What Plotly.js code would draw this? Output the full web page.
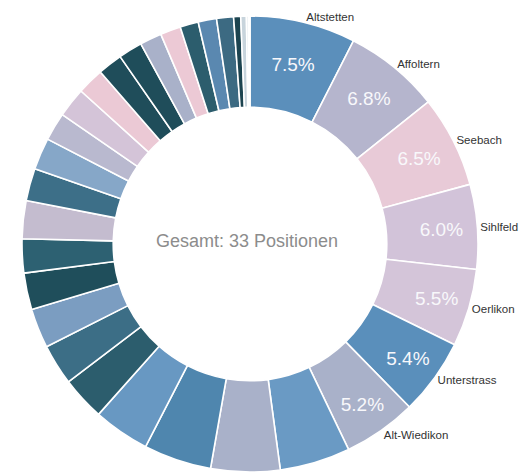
<!DOCTYPE html>
<html>
<head>
<meta charset="utf-8">
<script src="https://cdn.plot.ly/plotly-3.0.1.min.js"></script>
<style>html,body{margin:0;padding:0;background:#fff;}#chart{width:531px;height:475px;}</style>
</head>
<body>
<div id="chart"></div>
<script>
const names = ["Altstetten","Affoltern","Seebach","Sihlfeld","Oerlikon","Unterstrass","Alt-Wiedikon",
  "Quartier 8","Quartier 9","Quartier 10","Quartier 11","Quartier 12","Quartier 13","Quartier 14",
  "Quartier 15","Quartier 16","Quartier 17","Quartier 18","Quartier 19","Quartier 20","Quartier 21",
  "Quartier 22","Quartier 23","Quartier 24","Quartier 25","Quartier 26","Quartier 27","Quartier 28",
  "Quartier 29","Quartier 30","Quartier 31","Quartier 32","Quartier 33"];
const shares = [7.5,6.8,6.5,6.0,5.5,5.4,5.2,
  5.0,4.9,4.8,4.0,3.1,2.9,2.8,2.6,2.4,2.7,2.3,2.25,2.0,2.1,1.9,1.75,1.7,1.55,1.45,1.3,1.3,1.2,0.5,0.4,0.15,0.1];
const shownLabels = ["Altstetten","Affoltern","Seebach","Sihlfeld","Oerlikon","Unterstrass","Alt-Wiedikon"];
const colors = ["#5b8fbb","#b5b5cd","#e8cad7","#d2c3d9","#d4c5d9","#5a8fbb","#a9b1c9",
  "#6a9ac4","#a9b1c9","#4f86ae","#6898c2","#2c5d6d","#3c6e86","#7b9dc1","#1f4e5b","#2d6172",
  "#c4bccf","#3d6f88","#86a7c8","#b9b9cf","#d4c4d8","#ebc9d5","#1f4d5a","#1f4d5a","#a9b1c9",
  "#ecc9d5","#2c5d6d","#5a88b0","#3c6a82","#1c4450","#c8d4dc","#dde4ea","#b0c4d4"];
const centerText = "Gesamt: 33 Positionen";

const pctText = names.map((n,i) => shownLabels.includes(n) ? shares[i].toFixed(1) + "%" : "");
const outText = names.map(n => shownLabels.includes(n) ? n : "");

const domain = {x:[22/531, 478/531], y:[1-472/475, 1-16/475]};
const font = "Arial, 'Liberation Sans', sans-serif";

const data = [
  {
    type:"pie", labels:names, values:shares, sort:false, direction:"clockwise", rotation:0,
    hole:0.6, domain:domain,
    marker:{colors:colors, line:{color:"#ffffff", width:1.6}},
    text:pctText, textinfo:"text", textposition:"inside", insidetextorientation:"horizontal",
    insidetextfont:{family:font, size:19, color:"#f8f8fb"},
    hoverinfo:"label+percent", showlegend:false
  },
  {
    type:"pie", labels:names, values:shares, sort:false, direction:"clockwise", rotation:0,
    hole:0.6, domain:domain,
    marker:{colors:names.map(()=> "rgba(0,0,0,0)"), line:{width:0}},
    text:outText, textinfo:"text", textposition:"outside", automargin:false,
    outsidetextfont:{family:font, size:11.5, color:"#333333"},
    hoverinfo:"skip", showlegend:false
  }
];
const layout = {
  width:531, height:475, margin:{l:0,r:0,t:0,b:0},
  paper_bgcolor:"#ffffff", showlegend:false,
  annotations:[{text:centerText, xref:"paper", yref:"paper", x:247/531, y:1-241/475,
    showarrow:false, font:{family:font, size:18, color:"#8c8c8c"}}]
};
Plotly.newPlot("chart", data, layout, {displayModeBar:false, staticPlot:true});
</script>
</body>
</html>
